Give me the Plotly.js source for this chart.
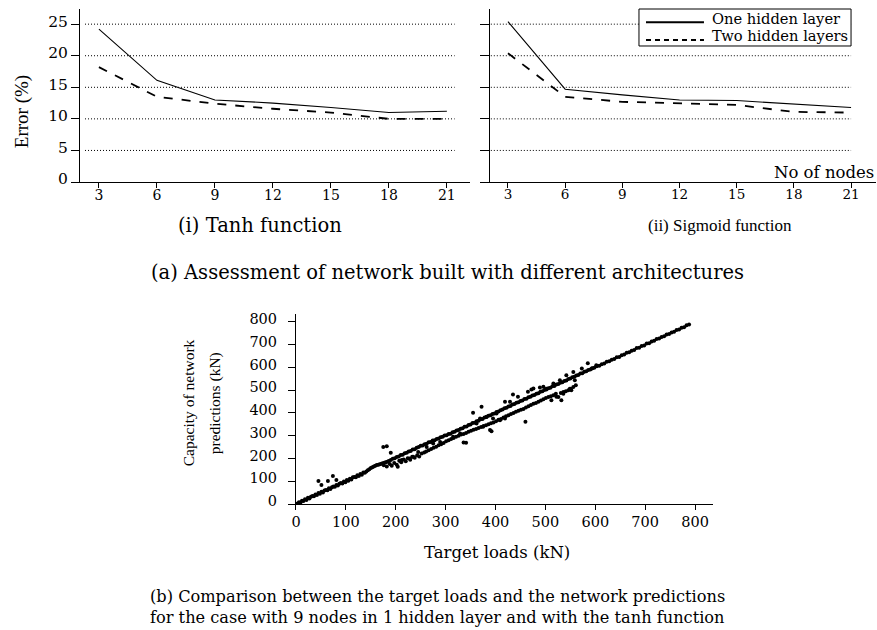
<!DOCTYPE html>
<html>
<head>
<meta charset="utf-8">
<script src="https://cdn.plot.ly/plotly-3.0.1.min.js"></script>
<style>html,body{margin:0;padding:0;background:#fff;}#chart{width:877px;height:630px;}</style>
</head>
<body>
<div id="chart"></div>
<script>
// ---------- Data: (a) network architectures ----------
var nodes = [3, 6, 9, 12, 15, 18, 21];
var tanhOneHidden = [24.2, 16.1, 13.0, 12.5, 11.8, 11.0, 11.2];
var tanhTwoHidden = [18.2, 13.5, 12.4, 11.6, 11.0, 10.0, 10.0];
var sigmoidOneHidden = [25.4, 14.7, 13.8, 13.0, 12.9, 12.4, 11.8];
var sigmoidTwoHidden = [20.4, 13.5, 12.7, 12.4, 12.2, 11.1, 11.0];
var errorTicks = [0, 5, 10, 15, 20, 25];
var gridLevels = [5, 10, 15, 20, 25];
var legendNames = ["One hidden layer", "Two hidden layers"];

// ---------- Data: (b) target loads vs network predictions (kN) ----------
var mainTarget = [3,6,9,12,15,18,21,24,27,30,33,36,39,42,45,48,51,54,57,60,63,66,69,72,75,78,81,84,87,90,93,96,99,102,105,108,111,114,117,120,123,126,129,132,135,138,141,144,147,150,153,156,159,162,165,168,171,174,177,180,183,186,190,194,198,202,206,210,214,218,222,226,230,234,238,242,246,250,254,258,262,266,270,274,278,282,286,290,294,298,302,306,310,314,318,322,326,330,334,338,342,346,350,354,358,362,366,370,374,378,382,386,390,394,398,402,406,410,414,418,422,426,430,434,438,442,446,450,454,458,462,466,470,474,478,482,486,490,494,498,502,506,510,514,518,522,526,530,534,538,542,546,550,554,558,562,566,570,574,578,582,586,590,594,598,603,608,613,618,623,628,633,638,643,648,653,658,663,668,673,678,683,688,693,698,703,708,713,718,723,728,733,738,743,748,753,758,763,768,773,778,783,788];
var mainPred = [2,8,7,14,13,21,18,27,24,32,35,34,42,39,48,45,54,51,59,62,60,69,66,74,77,76,84,81,89,92,90,99,96,105,102,111,108,117,119,118,126,123,132,129,138,137,143,148,153,158,162,165,168,171,173,175,177,179,181,183,186,189,193,199,201,207,209,215,216,223,225,231,233,239,241,247,250,256,257,263,265,271,272,279,280,286,288,293,295,301,302,308,309,315,317,323,325,331,333,339,341,347,349,356,357,364,366,372,374,380,382,388,390,396,398,404,406,412,415,421,423,429,431,437,439,445,447,453,455,461,463,469,471,477,479,485,487,493,495,501,503,509,511,517,519,525,527,533,535,541,543,549,551,557,559,565,567,573,575,581,583,589,591,597,599,605,607,614,617,625,627,634,637,645,646,654,657,665,667,674,677,685,687,694,697,705,706,714,717,725,727,734,737,745,747,754,757,765,767,774,777,785,789];
var lowerTarget = [176,182,188,192,197,202,207,211,216,220,224,229,233,238,243,247,252,257,261,266,271,276,281,286,291,296,301,306,311,316,321,326,331,336,341,346,351,356,361,366,371,376,381,386,391,396,401,406,411,416,421,426,431,436,441,446,451,456,461,466,471,476,481,486,491,496,501,506,511,516,521,526,531,536,541,546,551,556,561];
var lowerPred = [170,165,176,168,180,172,190,184,196,188,201,194,208,203,214,209,222,226,231,236,242,247,252,258,263,268,276,280,286,290,296,300,305,308,312,318,322,326,330,334,338,343,346,350,355,358,364,370,374,380,386,390,395,400,405,410,414,418,424,430,435,440,444,449,455,460,466,470,474,478,484,470,488,492,496,500,506,514,522];
var scatterTarget = [45,51,64,74,81,175,182,190,204,212,228,235,245,262,275,289,315,329,336,341,355,362,369,372,375,382,389,392,395,402,409,419,419,429,435,445,460,465,472,476,489,496,502,512,516,522,529,532,536,542,549,552,556,559,573,585,593,602];
var scatterPred = [101,83,101,123,105,251,254,225,164,193,200,208,229,251,266,273,295,310,270,269,401,354,376,427,339,383,325,320,376,398,368,376,449,449,481,471,361,493,503,508,512,515,507,456,529,471,544,456,485,566,507,500,580,544,595,618,595,610];
var loadTicks = [0, 100, 200, 300, 400, 500, 600, 700, 800];

// ---------- Build ----------
var SERIF = "Liberation Serif, Times New Roman, serif";
var WIDE = "DejaVu Serif, serif";
var allTarget = mainTarget.concat(lowerTarget, scatterTarget);
var allPred = mainPred.concat(lowerPred, scatterPred);

var solid = {color: "#000", width: 1.1, dash: "solid"};
var dashed = {color: "#000", width: 1.8, dash: "dash"};

var traces = [
  {x: nodes, y: tanhOneHidden, xaxis: "x", yaxis: "y", mode: "lines", line: solid, name: legendNames[0]},
  {x: nodes, y: tanhTwoHidden, xaxis: "x", yaxis: "y", mode: "lines", line: dashed, name: legendNames[1]},
  {x: nodes, y: sigmoidOneHidden, xaxis: "x2", yaxis: "y2", mode: "lines", line: solid, name: legendNames[0]},
  {x: nodes, y: sigmoidTwoHidden, xaxis: "x2", yaxis: "y2", mode: "lines", line: dashed, name: legendNames[1]},
  {x: allTarget, y: allPred, xaxis: "x3", yaxis: "y3", mode: "markers", marker: {color: "#000", size: 4, symbol: "circle"}, name: "Predictions"}
];

function baseAxis(extra) {
  var a = {showline: true, linecolor: "#000", linewidth: 1, ticks: "outside", tickcolor: "#000", tickwidth: 1,
    showgrid: false, zeroline: false, tickmode: "array", fixedrange: true,
    tickfont: {family: WIDE, size: 14, color: "#000"}};
  for (var k in extra) a[k] = extra[k];
  return a;
}

var shapes = [];
gridLevels.forEach(function (g) {
  shapes.push({type: "line", xref: "x", yref: "y", x0: 2.28, x1: 21.4, y0: g, y1: g, layer: "below",
    line: {color: "#000", width: 1, dash: "1px,2px"}});
  shapes.push({type: "line", xref: "x2", yref: "y2", x0: 2.1, x1: 21, y0: g, y1: g, layer: "below",
    line: {color: "#000", width: 1, dash: "1px,2px"}});
});
// hand-drawn legend box and samples (paper coordinates)
shapes.push({type: "rect", xref: "paper", yref: "paper", x0: 0.7286, x1: 0.9704, y0: 0.927, y1: 0.9857,
  fillcolor: "#fff", line: {color: "#000", width: 1}, layer: "above"});
shapes.push({type: "line", xref: "paper", yref: "paper", x0: 0.7366, x1: 0.8027, y0: 0.9645, y1: 0.9645,
  line: {color: "#000", width: 2, dash: "solid"}, layer: "above"});
shapes.push({type: "line", xref: "paper", yref: "paper", x0: 0.7366, x1: 0.8027, y0: 0.9365, y1: 0.9365,
  line: {color: "#000", width: 2, dash: "5px,4px"}, layer: "above"});

function ann(text, x, y, family, size, extra) {
  var a = {text: text, x: x, y: y, xref: "paper", yref: "paper", showarrow: false,
    font: {family: family, size: size, color: "#000"}, xanchor: "center", yanchor: "middle"};
  for (var k in extra) a[k] = extra[k];
  return a;
}

var layout = {
  width: 877, height: 630,
  margin: {l: 0, r: 0, t: 0, b: 0},
  paper_bgcolor: "#fff", plot_bgcolor: "#fff",
  font: {family: SERIF, color: "#000"},
  showlegend: false,
  xaxis: baseAxis({domain: [0.0912, 0.536], range: [2.02, 22.2], tickvals: nodes, ticklen: 5, anchor: "y", ticklabelstandoff: -5}),
  yaxis: baseAxis({domain: [0.7111, 0.9857], range: [0, 27.4], tickvals: errorTicks, ticklen: 8, anchor: "x", ticklabelshift: -3, tickfont: {family: WIDE, size: 15.5, color: "#000"}}),
  xaxis2: baseAxis({domain: [0.5587, 0.9989], range: [2.056, 22.31], tickvals: nodes, ticklen: 5, anchor: "y2", ticklabelstandoff: -5, tickfont: {family: WIDE, size: 13.5, color: "#000"}}),
  yaxis2: baseAxis({domain: [0.7111, 0.9857], range: [0, 27.4], tickvals: errorTicks, ticklen: 9, showticklabels: false, anchor: "x2"}),
  xaxis3: baseAxis({domain: [0.3375, 0.813], range: [0, 836], tickvals: loadTicks, ticklen: 5, anchor: "y3", tickfont: {family: WIDE, size: 14.5, color: "#000"}}),
  yaxis3: baseAxis({domain: [0.2, 0.5016], range: [0, 835], tickvals: loadTicks, ticklen: 7, anchor: "x3", ticklabelstandoff: 8, ticklabelshift: -3, tickfont: {family: WIDE, size: 14.5, color: "#000"}}),
  shapes: shapes,
  annotations: [
    ann("Error (%)", 0.0251, 0.822, SERIF, 19, {textangle: -90}),
    ann("No of nodes", 0.999, 0.7254, WIDE, 16.5, {xanchor: "right"}),
    ann(legendNames[0], 0.8096, 0.9714, WIDE, 14.7, {xanchor: "left"}),
    ann(legendNames[1], 0.8096, 0.9444, WIDE, 14.7, {xanchor: "left"}),
    ann("(i) Tanh function", 0.2965, 0.6413, WIDE, 19.5),
    ann("(ii) Sigmoid function", 0.821, 0.6413, SERIF, 17),
    ann("(a) Assessment of network built with different architectures", 0.5097, 0.568, WIDE, 19.5),
    ann("Capacity of network", 0.2144, 0.36, SERIF, 15.5, {textangle: -90}),
    ann("predictions (kN)", 0.2452, 0.36, SERIF, 15.5, {textangle: -90}),
    ann("Target loads (kN)", 0.5667, 0.1238, WIDE, 16.5),
    ann("(b) Comparison between the target loads and the network predictions", 0.4994, 0.0524, WIDE, 16.2),
    ann("for the case with 9 nodes in 1 hidden layer and with the tanh function", 0.4994, 0.0206, WIDE, 16.2)
  ]
};

Plotly.newPlot("chart", traces, layout, {displayModeBar: false, staticPlot: true});
</script>
</body>
</html>
